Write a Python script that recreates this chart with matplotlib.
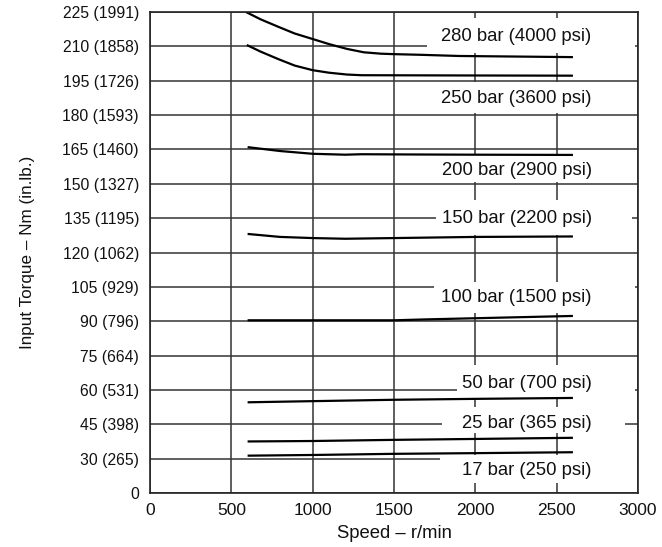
import matplotlib
matplotlib.use("Agg")
import matplotlib.pyplot as plt
from matplotlib.patches import Rectangle

FONT = ['Liberation Sans Narrow', 'Liberation Sans', 'DejaVu Sans']
plt.rcParams['font.family'] = FONT

# ---- data ----
x_ticks = [0, 500, 1000, 1500, 2000, 2500, 3000]
y_ticks = [15, 30, 45, 60, 75, 90, 105, 120, 135, 150, 165, 180, 195, 210, 225]
y_tick_labels = ['0', '30 (265)', '45 (398)', '60 (531)', '75 (664)', '90 (796)',
                 '105 (929)', '120 (1062)', '135 (1195)', '150 (1327)', '165 (1460)',
                 '180 (1593)', '195 (1726)', '210 (1858)', '225 (1991)']

speed_280 = [590, 680, 790, 890, 1000, 1100, 1210, 1315, 1420, 1500, 1670, 1900, 2600]
torque_280 = [225, 221.8, 218.5, 215.6, 213.2, 211.0, 208.9, 207.4, 206.8, 206.6,
              206.3, 205.8, 205.3]

speed_250 = [595, 680, 790, 890, 1000, 1100, 1210, 1300, 1900, 2600]
torque_250 = [210.6, 207.7, 204.4, 201.6, 199.6, 198.5, 197.7, 197.4, 197.3, 197.2]

speed_200 = [600, 800, 1000, 1200, 1300, 1600, 2000, 2600]
torque_200 = [166.0, 164.3, 163.1, 162.7, 162.9, 162.8, 162.7, 162.6]

speed_150 = [600, 800, 1000, 1200, 1500, 2000, 2600]
torque_150 = [128.1, 126.8, 126.3, 126.0, 126.3, 126.8, 127.0]

speed_100 = [600, 1000, 1500, 1700, 2000, 2600]
torque_100 = [90.4, 90.4, 90.4, 90.8, 91.3, 92.3]

speed_50 = [600, 1000, 1500, 2000, 2600]
torque_50 = [54.6, 55.1, 55.7, 56.1, 56.5]

speed_25 = [600, 1000, 1500, 2000, 2600]
torque_25 = [37.5, 37.7, 38.2, 38.6, 39.1]

speed_17 = [600, 1000, 1500, 2000, 2600]
torque_17 = [31.3, 31.6, 32.1, 32.4, 32.8]

series = [
    (speed_280, torque_280),
    (speed_250, torque_250),
    (speed_200, torque_200),
    (speed_150, torque_150),
    (speed_100, torque_100),
    (speed_50, torque_50),
    (speed_25, torque_25),
    (speed_17, torque_17),
]

labels = ['280 bar (4000 psi)', '250 bar (3600 psi)', '200 bar (2900 psi)',
          '150 bar (2200 psi)', '100 bar (1500 psi)', '50 bar (700 psi)',
          '25 bar (365 psi)', '17 bar (250 psi)']
label_y = [214.1, 187.4, 156.0, 135.0, 100.5, 63.0, 45.5, 25.0]
# white masking boxes behind labels: (x0, x1, y0, y1)
label_boxes = [(1705, 2980, 207.1, 222.4), (1750, 2980, 180.9, 194.4),
               (1750, 2980, 150.8, 162.6), (1760, 2965, 127.6, 142.9),
               (1748, 2980, 93.6, 107.1), (1885, 2980, 56.3, 70.8),
               (1798, 2920, 41.2, 52.5), (1780, 2995, 19.3, 31.6)]

# ---- figure ----
fig = plt.figure(figsize=(6.62, 5.47), dpi=100)
ax = fig.add_axes([150/662, 1-493/547, (638-150)/662, (493-12)/547])
ax.set_xlim(0, 3000)
ax.set_ylim(15, 225)
ax.set_axisbelow(True)

ax.set_xticks(x_ticks)
ax.set_xticklabels([str(v) for v in x_ticks], fontsize=12.5, color='#111111')
ax.set_yticks(y_ticks)
ax.set_yticklabels(y_tick_labels, fontsize=11.3, color='#111111')
ax.tick_params(axis='both', length=0)
ax.tick_params(axis='y', pad=8)
ax.tick_params(axis='x', pad=7)

ax.grid(True, color='#333333', linewidth=1.1)
for s in ax.spines.values():
    s.set_color('#222222')
    s.set_linewidth(1.2)

for (x0, x1, y0, y1) in label_boxes:
    ax.add_patch(Rectangle((x0, y0), x1 - x0, y1 - y0, facecolor='white',
                           edgecolor='none', zorder=1))

for sp, tq in series:
    ax.plot(sp, tq, color='black', linewidth=1.6, zorder=2, solid_capstyle='butt')

for lab, yy in zip(labels, label_y):
    ax.text(2715, yy, lab, ha='right', va='center', fontsize=13.3, zorder=3,
            color='#111111')

ax.set_xlabel('Speed – r/min', fontsize=13.3, labelpad=5, color='#111111')
ax.set_ylabel('Input Torque – Nm (in.lb.)', fontsize=12.3, labelpad=20, color='#111111')

fig.savefig('out.png', dpi=100)
